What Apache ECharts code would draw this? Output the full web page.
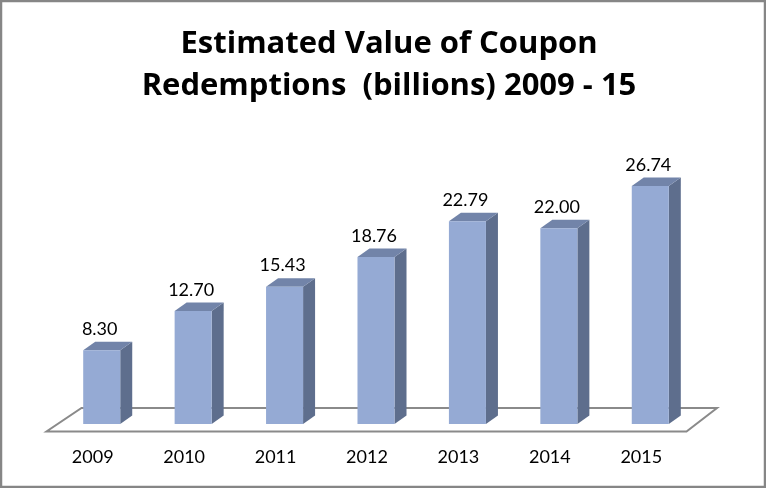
<!DOCTYPE html>
<html>
<head>
<meta charset="utf-8">
<script src="https://cdn.jsdelivr.net/npm/echarts@6/dist/echarts.min.js"></script>
<style>
  html, body { margin: 0; padding: 0; background: #fff; }
  #chart { width: 766px; height: 488px; }
</style>
</head>
<body>
<div id="chart"></div>
<script>
// chart data
const years = ["2009", "2010", "2011", "2012", "2013", "2014", "2015"];
const redemptions = [8.30, 12.70, 15.43, 18.76, 22.79, 22.00, 26.74];

// 3D look of the bars
const FRONT = "#95aad4";
const TOP = "#7284a9";
const SIDE = "#5e6e8d";
const DEPTH_X = 12;
const DEPTH_Y = 8.5;
const FONT = "Lato, 'Open Sans', sans-serif";

const chart = echarts.init(document.getElementById("chart"), null, { renderer: "canvas" });

const renderBar = (params, api) => {
  const idx = api.value(0);
  const val = api.value(1);
  const top = api.coord([idx, val]);
  const base = api.coord([idx, 0]);
  const w = api.size([1, 0])[0] * 0.405;
  const l = top[0] - w / 2;
  const r = top[0] + w / 2;
  const t = top[1];
  const b = base[1];
  return {
    type: "group",
    children: [
      {
        type: "polygon",
        shape: { points: [[r, t], [r + DEPTH_X, t - DEPTH_Y], [r + DEPTH_X, b - DEPTH_Y], [r, b]] },
        style: { fill: SIDE }
      },
      {
        type: "polygon",
        shape: { points: [[l, t], [l + DEPTH_X, t - DEPTH_Y], [r + DEPTH_X, t - DEPTH_Y], [r, t]] },
        style: { fill: TOP }
      },
      {
        type: "rect",
        shape: { x: l, y: t, width: w, height: b - t },
        style: { fill: FRONT }
      },
      {
        type: "text",
        style: {
          x: top[0] - 2, y: t - 12,
          text: val.toFixed(2),
          align: "center", verticalAlign: "bottom",
          font: "18px " + FONT, fill: "#000"
        }
      }
    ]
  };
};

// floor plane under the bars
const renderFloor = (params) => {
  const cs = params.coordSys;
  const x0 = cs.x, x1 = cs.x + cs.width, y = cs.y + cs.height;
  return {
    type: "polygon",
    shape: { points: [[x0 - 9.5, y + 7.5], [x1 - 9.5, y + 7.5], [x1 + 21, y - 16], [x0 + 25.5, y - 16]] },
    style: { fill: "#fff", stroke: "#8a8a8a", lineWidth: 2 },
    silent: true
  };
};

chart.setOption({
  animation: false,
  title: {
    text: "Estimated Value of Coupon\nRedemptions  (billions) 2009 - 15",
    left: 384,
    top: 18,
    textAlign: "center",
    textStyle: { fontFamily: "'Open Sans', Lato, sans-serif", fontSize: 31, fontWeight: "bold", lineHeight: 42, color: "#000" }
  },
  graphic: [{
    type: "rect",
    shape: { x: 1, y: 1, width: 764, height: 486 },
    style: { fill: "none", stroke: "#868686", lineWidth: 2.5 },
    silent: true
  }],
  grid: { left: 56, right: 70, top: 157, bottom: 64 },
  xAxis: {
    type: "category",
    data: years,
    axisLine: { show: false },
    axisTick: { show: false },
    axisLabel: { margin: 24, padding: [0, 18, 0, 0], fontFamily: FONT, fontSize: 18, color: "#000" }
  },
  yAxis: {
    type: "value",
    min: 0,
    max: 30,
    show: false
  },
  series: [
    {
      type: "custom",
      renderItem: renderFloor,
      data: [0],
      z: 1
    },
    {
      type: "custom",
      renderItem: renderBar,
      encode: { x: 0, y: 1 },
      data: years.map((y, i) => [i, redemptions[i]]),
      z: 2
    }
  ]
});
</script>
</body>
</html>
